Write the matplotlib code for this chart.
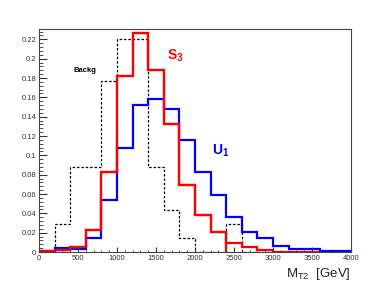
import numpy as np
import matplotlib
matplotlib.use("Agg")
import matplotlib.pyplot as plt
import matplotlib.ticker as mticker

plt.rcParams["font.family"] = ["Liberation Sans", "DejaVu Sans"]
plt.rcParams["mathtext.fontset"] = "custom"
plt.rcParams["mathtext.rm"] = "Liberation Sans"
plt.rcParams["mathtext.it"] = "Liberation Sans"
plt.rcParams["mathtext.bf"] = "Liberation Sans:bold"

# bin edges, 200 GeV wide
edges = np.arange(0, 4001, 200)

# normalised M_T2 distributions
backg = [0.000, 0.029, 0.088, 0.088, 0.177, 0.220, 0.220, 0.088, 0.043, 0.014,
         0.000, 0.000, 0.029, 0.000, 0.000, 0.000, 0.000, 0.000, 0.000, 0.000]
s3 = [0.001, 0.002, 0.0048, 0.023, 0.0824, 0.182, 0.2268, 0.1886, 0.1324, 0.0693,
      0.0383, 0.0203, 0.0097, 0.0052, 0.0022, 0.0004, 0.0003, 0.0003, 0.0002, 0.0002]
u1 = [0.001, 0.0038, 0.003, 0.0141, 0.054, 0.108, 0.152, 0.158, 0.148, 0.1155,
      0.083, 0.059, 0.0364, 0.0205, 0.0141, 0.0064, 0.003, 0.003, 0.0015, 0.0015]

fig = plt.figure(figsize=(3.9, 2.81), dpi=100)
ax = fig.add_axes([0.1, 0.1032, 0.8, 0.7936])

ax.stairs(backg, edges, color="black", linewidth=0.9, linestyle=(0, (2, 1.5)))
ax.stairs(s3, edges, color="#ff0000", linewidth=1.6)
ax.stairs(u1, edges, color="#0000ff", linewidth=1.6)
# red drawn over blue in the peak region
ax.stairs(s3[:12], edges[:13], color="#ff0000", linewidth=1.6)

ax.set_xlim(0, 4000)
ax.set_ylim(0, 0.2307)

ax.xaxis.set_major_locator(mticker.MultipleLocator(500))
ax.xaxis.set_minor_locator(mticker.MultipleLocator(100))
ax.yaxis.set_major_locator(mticker.MultipleLocator(0.02))
ax.yaxis.set_minor_locator(mticker.MultipleLocator(0.004))
ax.yaxis.set_major_formatter(mticker.FuncFormatter(lambda v, p: f"{v:g}"))

ax.tick_params(axis="both", which="both", direction="in", top=False, right=False,
               labelsize=5.5, colors="#333333", pad=2)
ax.tick_params(axis="x", which="major", length=3.6)
ax.tick_params(axis="x", which="minor", length=1.8)
ax.tick_params(axis="y", which="major", length=5.5)
ax.tick_params(axis="y", which="minor", length=2.8)
for sp in ax.spines.values():
    sp.set_edgecolor("#444444")
    sp.set_linewidth(0.8)

ax.text(436, 0.188, "Backg", fontsize=5.5, fontweight="bold", color="black",
        ha="left", va="center")
ax.text(1641, 0.1986, r"$\mathbf{S_3}$", fontsize=10, color="#ff0000",
        ha="left", va="baseline")
ax.text(2218, 0.1003, r"$\mathbf{U_1}$", fontsize=10, color="#0000ff",
        ha="left", va="baseline")
fig.text(0.9, 0.015, r"M$_{\rm T2}$  [GeV]", fontsize=9.5, color="#222222",
         ha="right", va="baseline")

fig.savefig("out.png", dpi=100, facecolor="white")
